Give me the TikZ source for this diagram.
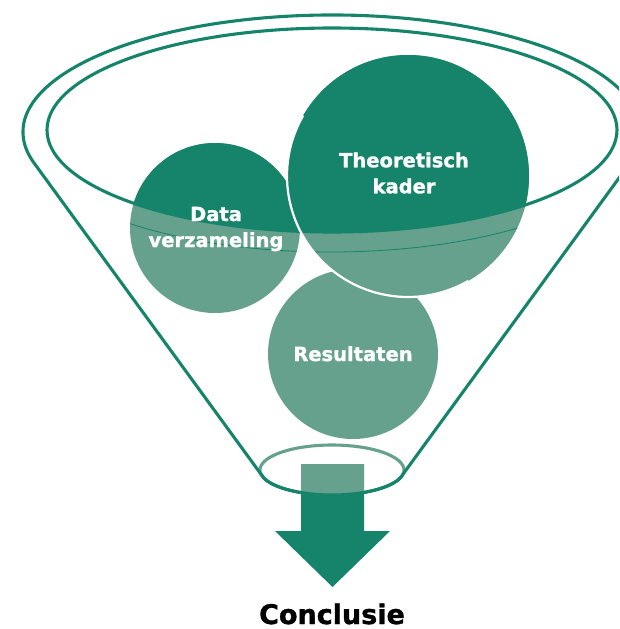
\documentclass[tikz,border=0pt]{standalone}
\usepackage{fontspec}
\setmainfont{DejaVu Sans}[BoldFeatures={FakeBold=1.2}]
\usetikzlibrary{calc}
\definecolor{dkgreen}{RGB}{21,132,106}
\definecolor{ltgreen}{RGB}{101,161,140}
\begin{document}
\begin{tikzpicture}[x=1pt,y=-1pt,
  rim/.style={draw=dkgreen, line width=3.1pt},
  softrim/.style={draw=ltgreen, line width=3.1pt},
  thinrim/.style={draw=dkgreen, line width=0.8pt},
  lbl/.style={text=white, font=\bfseries\fontsize{19.5}{26}\selectfont, align=center, inner sep=0pt},
  endlbl/.style={text=black, font=\bfseries\fontsize{27}{30}\selectfont, inner sep=0pt},
]
\useasboundingbox (0,0) rectangle (619,629);
\clip (0,0) rectangle (619,629);
% key points
\coordinate (oc) at (332,132);
\coordinate (ic) at (332,130);
\coordinate (bc) at (332,470);
\coordinate (tl) at ($(oc)+(164.75:309 and 117)$);
\coordinate (bl) at ($(bc)+(170:72 and 25)$);
\coordinate (br) at ($(bc)+(10:72 and 25)$);
\coordinate (dc) at (215,228);
\coordinate (tc) at (408,176);
\coordinate (rc) at (353,354);
% back half of the bottom opening
\draw[softrim] (bl) arc[start angle=170, end angle=370, x radius=72, y radius=25];
% funnel outline
\draw[rim, line join=round] (bl) -- (tl)
  arc[start angle=164.75, end angle=375.25, x radius=309, y radius=117] -- (br)
  arc[start angle=10, end angle=170, x radius=72, y radius=25] -- cycle;
% Data verzameling
\fill[ltgreen] (dc) circle[radius=85];
\begin{scope}
  \clip (ic) ellipse[x radius=285, y radius=102];
  \fill[dkgreen] (dc) circle[radius=85];
\end{scope}
\begin{scope}
  \clip (dc) circle[radius=85];
  \draw[thinrim] (331,135) ellipse[x radius=308, y radius=117];
\end{scope}
% Resultaten
\fill[ltgreen] (rc) circle[radius=85];
% Theoretisch kader
\fill[ltgreen] (tc) circle[radius=121];
\begin{scope}
  \clip (ic) ellipse[x radius=285, y radius=102];
  \fill[dkgreen] (tc) circle[radius=121];
\end{scope}
\begin{scope}
  \clip (tc) circle[radius=121];
  \draw[thinrim] (331,135) ellipse[x radius=308, y radius=117];
\end{scope}
% inner rim
\draw[rim] (ic) ellipse[x radius=285, y radius=102];
% white edge of the big circle
\draw[white, line width=2.2pt] ($(tc)+(-150:121)$) arc[start angle=-150, end angle=-300, radius=121];
% arrow
\fill[dkgreen] (301,464) -- (364,464) -- (364,531) -- (390,531) -- (332.5,587)
  -- (275,531) -- (301,531) -- cycle;
\begin{scope}
  \clip (bc) ellipse[x radius=72, y radius=25];
  \fill[ltgreen] (301,464) rectangle (364,531);
\end{scope}
\draw[rim] (br) arc[start angle=10, end angle=170, x radius=72, y radius=25];
% labels
\node[lbl] (tk) at (404,173) {Theoretisch\\kader};
\node[lbl] (dv) at (216,229) {Data\\verzameling};
\node[lbl, anchor=base] (rs) at (353,361) {Resultaten};
\node[endlbl, anchor=base] (cc) at (332,624) {Conclusie};
\end{tikzpicture}
\end{document}
